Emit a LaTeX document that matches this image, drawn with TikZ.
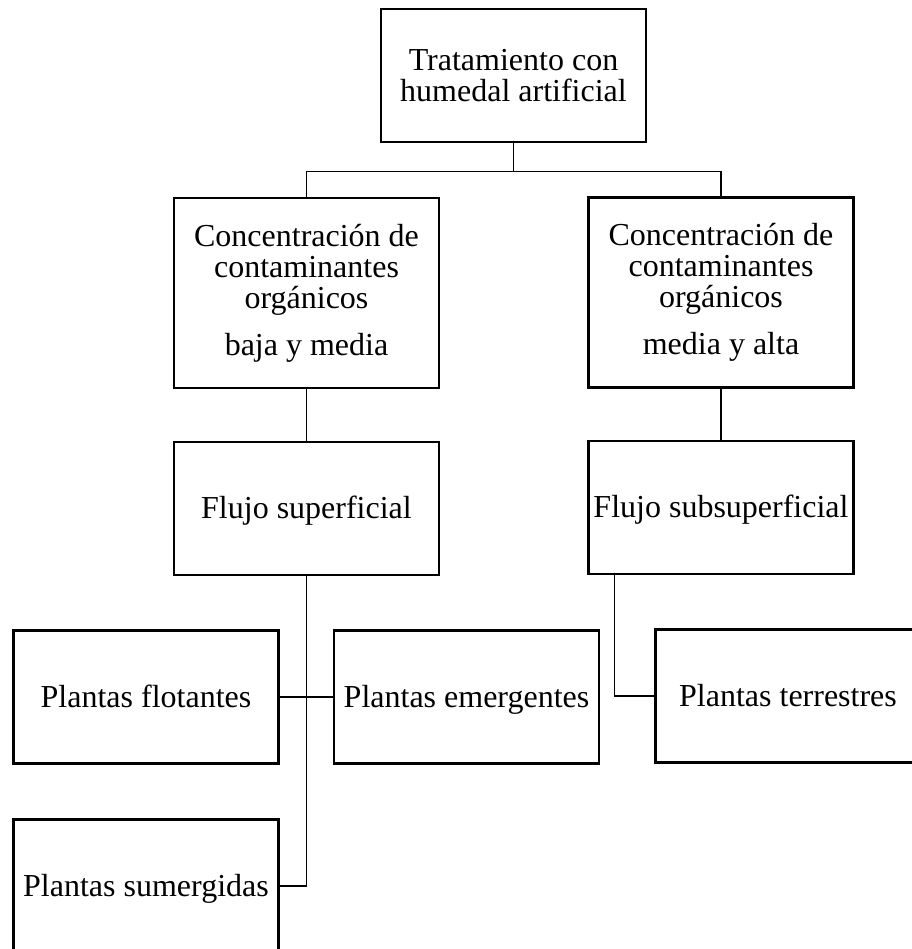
\documentclass[tikz,border=0pt]{standalone}
\usepackage{fontspec}
\setmainfont{Liberation Serif}
\usepackage{tikz}
\usetikzlibrary{positioning}
\usetikzlibrary{calc}

\begin{document}
\begin{tikzpicture}[x=1pt,y=-1pt,
    caja/.style={draw,line width=2.7pt,minimum width=265pt,minimum height=133pt,
      inner sep=0pt,align=center,font=\fontsize{32}{31}\selectfont},
    cajalinea/.style={caja,text height=22pt,text depth=2pt},
    cajaalta/.style={caja,minimum height=190pt},
    linea/.style={line width=1.2pt}]
\useasboundingbox (0,0) rectangle (911,949);
\node[caja] (trat) at (513.5,75.5) {Tratamiento con\\humedal artificial};
\node[cajaalta] (baja) at (306.5,293) {Concentración de\\contaminantes\\orgánicos\\[16pt]baja y media};
\node[cajaalta] (alta) at (721,292.5) {Concentración de\\contaminantes\\orgánicos\\[16pt]media y alta};
\node[cajalinea] (sup) at (306.5,508.5) {Flujo superficial};
\node[cajalinea] (sub) at (721,507.5) {Flujo subsuperficial};
\node[cajalinea] (flot) at (146,697) {Plantas flotantes};
\node[cajalinea] (emer) at (466.5,697) {Plantas emergentes};
\node[cajalinea] (terr) at (788,696) {Plantas terrestres};
\node[cajalinea] (sum) at (146,886) {Plantas sumergidas};
\draw[linea] (trat.south) -- ++(0,28) coordinate (rama) -| (baja.north);
\draw[linea] (rama) -| (alta.north);
\draw[linea] (baja.south) -- (sup.north);
\draw[linea] (alta.south) -- (sub.north);
\draw[linea] (flot.east) -- (emer.west);
\draw[linea] (sup.south) |- (sum.east);
\draw[linea] ($(sub.south west)+(27,0)$) |- (terr.west);
\end{tikzpicture}
\end{document}
